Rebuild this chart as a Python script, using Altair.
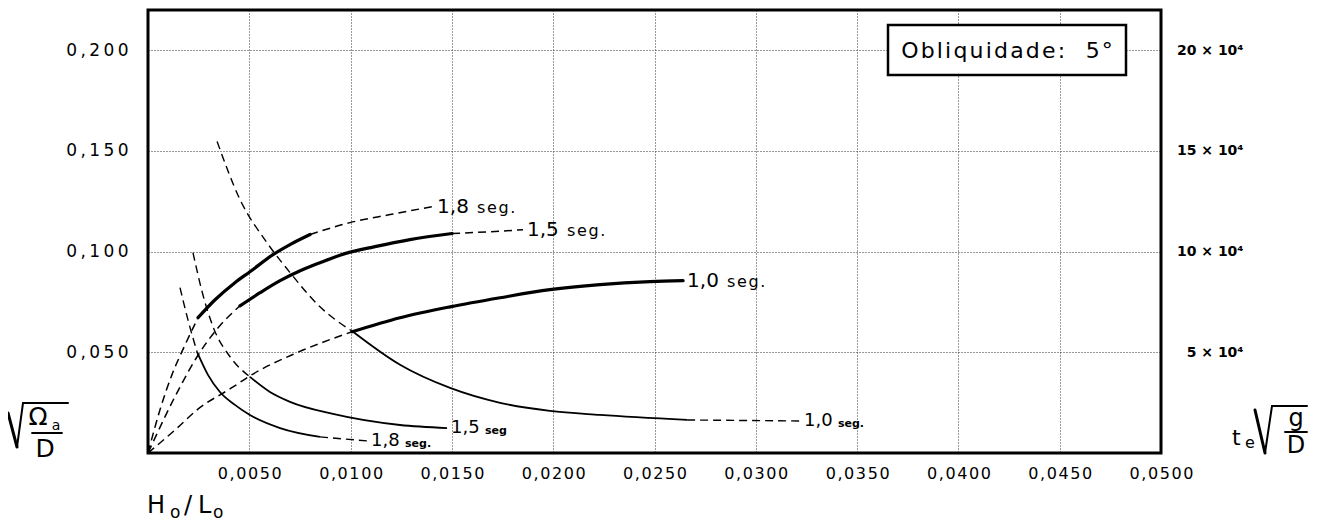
import altair as alt
import pandas as pd

# ---------------- data ----------------
X_TICKS = [0.005, 0.010, 0.015, 0.020, 0.025, 0.030, 0.035, 0.040, 0.045, 0.050]
X_TICK_LABELS = ["0,0050", "0,0100", "0,0150", "0,0200", "0,0250",
                 "0,0300", "0,0350", "0,0400", "0,0450", "0,0500"]
Y_TICKS = [0.05, 0.10, 0.15, 0.20]
Y_TICK_LABELS = ["0,050", "0,100", "0,150", "0,200"]
TE_TICKS = [50000, 100000, 150000, 200000]
TE_TICK_LABELS = ["5 × 10⁴", "10 × 10⁴", "15 × 10⁴", "20 × 10⁴"]

# sqrt(Omega_a / D) curves (left axis)
OM18_X = [0, 0.00059, 0.00118, 0.00183, 0.00247, 0.00331, 0.00429, 0.00503,
          0.00617, 0.00701, 0.00800, 0.00997, 0.01195, 0.01407]
OM18_Y = [0, 0.0214, 0.0388, 0.0537, 0.0672, 0.0761, 0.0846, 0.0900,
          0.0985, 0.1035, 0.1085, 0.1144, 0.1184, 0.1224]
OM18_SOLID = (4, 10)

OM15_X = [0, 0.00158, 0.00242, 0.00346, 0.00454, 0.00553, 0.00652, 0.00751,
          0.00849, 0.00972, 0.01120, 0.01293, 0.01501, 0.01688, 0.01851]
OM15_Y = [0, 0.0328, 0.0478, 0.0622, 0.0731, 0.0796, 0.0856, 0.0905,
          0.0945, 0.0990, 0.1025, 0.1060, 0.1090, 0.1099, 0.1109]
OM15_SOLID = (4, 12)

OM10_X = [0, 0.00133, 0.00242, 0.00420, 0.00503, 0.00735, 0.01007, 0.01244,
          0.01491, 0.01738, 0.01984, 0.02231, 0.02478, 0.02641]
OM10_Y = [0, 0.0114, 0.0214, 0.0328, 0.0383, 0.0498, 0.0602, 0.0672,
          0.0726, 0.0771, 0.0811, 0.0836, 0.0851, 0.0856]
OM10_SOLID = (6, 13)

OM_LABELS = ["1,8 seg.", "1,5 seg.", "1,0 seg."]

# t_e * sqrt(g/D) curves (right axis)
TE18_X = [0.00158, 0.00197, 0.00242, 0.00296, 0.00355, 0.00429, 0.00503,
          0.00652, 0.00849, 0.01081]
TE18_Y = [82100, 66200, 50200, 38800, 30300, 23900, 18900, 12400, 8000, 6000]
TE18_SOLID = (2, 8)

TE15_X = [0.00222, 0.00271, 0.00321, 0.00405, 0.00503, 0.00602, 0.00701,
          0.00913, 0.01244, 0.01476]
TE15_Y = [99500, 78600, 62700, 47800, 37800, 30300, 25400, 19400, 13900, 12400]
TE15_SOLID = (4, 9)

TE10_X = [0.00341, 0.00454, 0.00587, 0.00701, 0.00849, 0.01012, 0.01244,
          0.01491, 0.01738, 0.01984, 0.02231, 0.02661, 0.03218]
TE10_Y = [154700, 125900, 104500, 89600, 72600, 60200, 43800, 32300, 24900,
          20900, 18900, 16400, 15900]
TE10_SOLID = (5, 11)

TE_LABELS = ["1,8 seg.", "1,5 seg", "1,0 seg."]

BOX_TEXT = "Obliquidade:  5°"

# ---------------- helpers ----------------
FONT = "DejaVu Sans"
HAIR = "\u200a"
THIN = "\u2009"


def spaced(s, ch=HAIR):
    return ch.join(list(s))


def label_expr(ticks, labels, tol, ch=None):
    expr = ""
    for t, l in zip(ticks, labels):
        txt = spaced(l, ch) if ch else l
        expr += f"abs(datum.value - {t}) < {tol} ? '{txt}' : "
    return expr + "''"


def segments(name, xs, ys, solid, ycol):
    s0, s1 = solid
    rows = []
    pieces = [("dash", 0, s0), ("solid", s0, s1), ("dash", s1, len(xs) - 1)]
    for k, (style, a, b) in enumerate(pieces):
        if b > a:
            for i in range(a, b + 1):
                rows.append({"seg": f"{name}-{k}", "style": style, "order": i,
                             "x": xs[i], ycol: ys[i]})
    return rows


om_rows = (segments("om18", OM18_X, OM18_Y, OM18_SOLID, "om")
           + segments("om15", OM15_X, OM15_Y, OM15_SOLID, "om")
           + segments("om10", OM10_X, OM10_Y, OM10_SOLID, "om"))
te_rows = (segments("te18", TE18_X, TE18_Y, TE18_SOLID, "te")
           + segments("te15", TE15_X, TE15_Y, TE15_SOLID, "te")
           + segments("te10", TE10_X, TE10_Y, TE10_SOLID, "te"))
om_df = pd.DataFrame(om_rows)
te_df = pd.DataFrame(te_rows)

om_lab = pd.DataFrame({
    "x": [OM18_X[-1], OM15_X[-1], OM10_X[-1]],
    "om": [OM18_Y[-1], OM15_Y[-1], OM10_Y[-1]],
    "num": [l.split(" ")[0] for l in OM_LABELS],
    "unit": [spaced(l.split(" ")[1]) for l in OM_LABELS],
})
te_lab = pd.DataFrame({
    "x": [TE18_X[-1], TE15_X[-1], TE10_X[-1]],
    "te": [TE18_Y[-1], TE15_Y[-1], TE10_Y[-1]],
    "num": [l.split(" ")[0] for l in TE_LABELS],
    "unit": [l.split(" ")[1] for l in TE_LABELS],
})

W, H = 1013, 443

X = alt.X("x:Q", scale=alt.Scale(domain=[0, 0.05], nice=False, zero=True),
          axis=alt.Axis(values=X_TICKS, labelExpr=label_expr(X_TICKS, X_TICK_LABELS, 1e-6, HAIR),
                        title=None, grid=True, gridColor="#333", gridDash=[1, 2],
                        gridWidth=1, ticks=False, domain=False, labelFont=FONT,
                        labelFontSize=16, labelPadding=12, labelColor="black",
                        labelFlush=False, labelOverlap=False))
Y_OM = alt.Y("om:Q", scale=alt.Scale(domain=[0, 0.22], nice=False, zero=True),
             axis=alt.Axis(values=Y_TICKS, labelExpr=label_expr(Y_TICKS, Y_TICK_LABELS, 1e-6, THIN),
                           title=None, grid=True, gridColor="#333", gridDash=[1, 2],
                           gridWidth=1, ticks=False, domain=False, labelFont=FONT,
                           labelFontSize=17, labelPadding=20, labelColor="black",
                           labelFlush=False))
Y_TE = alt.Y("te:Q", scale=alt.Scale(domain=[0, 220000], nice=False, zero=True),
             axis=alt.Axis(orient="right", values=TE_TICKS,
                           labelExpr=label_expr(TE_TICKS, TE_TICK_LABELS, 1),
                           title=None, grid=False, ticks=False, domain=False,
                           labelFont=FONT, labelFontSize=14, labelFontWeight="bold",
                           labelAlign="right", labelPadding=82, labelColor="black",
                           labelFlush=False))

base_om = alt.Chart(om_df)
om_solid = base_om.transform_filter(alt.datum.style == "solid").mark_line(
    color="black", strokeWidth=3.2, interpolate="monotone", strokeCap="round"
).encode(x=X, y=Y_OM, detail="seg:N", order="order:Q")
om_dash = base_om.transform_filter(alt.datum.style == "dash").mark_line(
    color="black", strokeWidth=1.5, strokeDash=[8, 5], interpolate="monotone"
).encode(x=X, y=Y_OM, detail="seg:N", order="order:Q")
om_num = alt.Chart(om_lab).mark_text(
    align="left", baseline="middle", dx=4, font=FONT, fontSize=20, color="black"
).encode(x=X, y=Y_OM, text="num:N")
om_unit = alt.Chart(om_lab).mark_text(
    align="left", baseline="middle", dx=44, dy=1, font=FONT, fontSize=16, color="black"
).encode(x=X, y=Y_OM, text="unit:N")
om_group = alt.layer(om_dash, om_solid, om_num, om_unit)

base_te = alt.Chart(te_df)
te_solid = base_te.transform_filter(alt.datum.style == "solid").mark_line(
    color="black", strokeWidth=1.8, interpolate="monotone"
).encode(x=X, y=Y_TE, detail="seg:N", order="order:Q")
te_dash = base_te.transform_filter(alt.datum.style == "dash").mark_line(
    color="black", strokeWidth=1.4, strokeDash=[8, 5], interpolate="monotone"
).encode(x=X, y=Y_TE, detail="seg:N", order="order:Q")
te_num = alt.Chart(te_lab).mark_text(
    align="left", baseline="middle", dx=4, font=FONT, fontSize=18, color="black"
).encode(x=X, y=Y_TE, text="num:N")
te_unit = alt.Chart(te_lab).mark_text(
    align="left", baseline="middle", dx=38, dy=3, font=FONT, fontSize=11,
    fontWeight="bold", color="black"
).encode(x=X, y=Y_TE, text="unit:N")
te_group = alt.layer(te_dash, te_solid, te_num, te_unit)

one = pd.DataFrame({"k": [0]})


def txt(s, x, y, size, align="left", baseline="alphabetic", weight="normal"):
    return alt.Chart(one).mark_text(
        text=s, align=align, baseline=baseline, font=FONT, fontSize=size,
        fontWeight=weight, color="black"
    ).encode(x=alt.value(x), y=alt.value(y))


def seg(x1, y1, x2, y2, w=1.8):
    return alt.Chart(one).mark_rule(color="black", strokeWidth=w, strokeCap="round").encode(
        x=alt.value(x1), y=alt.value(y1), x2=alt.value(x2), y2=alt.value(y2))


decor = [
    # plot frame
    alt.Chart(one).mark_rect(filled=False, stroke="black", strokeWidth=3).encode(
        x=alt.value(0), x2=alt.value(W), y=alt.value(0), y2=alt.value(H)),
    # legend box
    alt.Chart(one).mark_rect(fill="white", stroke="black", strokeWidth=2.5).encode(
        x=alt.value(740), x2=alt.value(978), y=alt.value(15), y2=alt.value(65)),
    txt(spaced(BOX_TEXT), 859, 41, 22, align="center", baseline="middle"),
    # left title sqrt(Omega_a / D)
    seg(-140, 403, -131, 437, 3),
    seg(-131, 437, -125, 393, 2),
    seg(-125, 393, -80, 393, 2),
    txt("Ω", -110, 415, 25, align="center"),
    txt("a", -92, 420, 14, align="center"),
    seg(-116, 423, -86, 423, 1.8),
    txt("D", -103, 447, 25, align="center"),
    # bottom title H0/L0
    txt("H", -1, 503, 24),
    txt("o", 22, 508, 17),
    txt("/", 36, 503, 24),
    txt("L", 50, 503, 24),
    txt("o", 65, 508, 17),
    # right title t_e sqrt(g/D)
    txt("t", 1084, 435, 22),
    txt("e", 1097, 438, 16),
    seg(1107, 400, 1117, 443, 3),
    seg(1117, 443, 1124, 396, 2),
    seg(1124, 396, 1159, 396, 2),
    txt("g", 1148, 416, 24, align="center"),
    seg(1137, 422, 1159, 422, 1.8),
    txt("D", 1148, 443, 24, align="center"),
]

chart = alt.layer(om_group, te_group, *decor).resolve_scale(y="independent").properties(
    width=W, height=H,
    autosize=alt.AutoSizeParams(type="none"),
    padding={"left": 140, "top": 2, "right": 155, "bottom": 72},
    background="white",
).configure_view(stroke="black", strokeWidth=3).configure(font=FONT)

chart.save("out.html", embed_options={"renderer": "svg", "actions": False})
